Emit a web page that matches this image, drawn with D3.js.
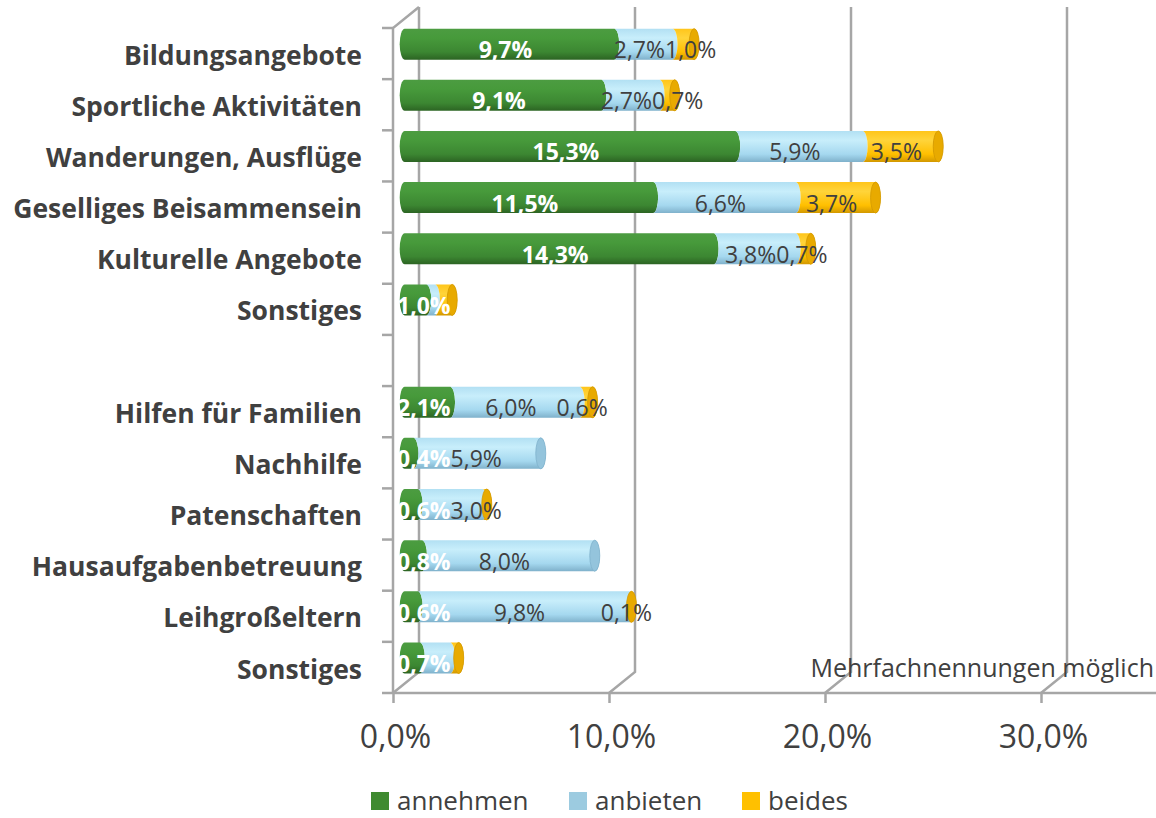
<!DOCTYPE html>
<html>
<head>
<meta charset="utf-8">
<script src="https://cdn.jsdelivr.net/npm/d3@7"></script>
<style>
  body { margin: 0; background: #fff; }
  svg { display: block; font-family: "Open Sans", sans-serif; }
</style>
</head>
<body>
<svg width="1156" height="818"></svg>
<script>
// categories top to bottom, "" is the empty gap row
var categories = ["Bildungsangebote", "Sportliche Aktivitäten", "Wanderungen, Ausflüge",
    "Geselliges Beisammensein", "Kulturelle Angebote", "Sonstiges", "",
    "Hilfen für Familien", "Nachhilfe", "Patenschaften", "Hausaufgabenbetreuung",
    "Leihgroßeltern", "Sonstiges"];

var annehmen = [9.7, 9.1, 15.3, 11.5, 14.3, 1.0, 0, 2.1, 0.4, 0.6, 0.8, 0.6, 0.7];
var anbieten = [2.7, 2.7, 5.9, 6.6, 3.8, 0.4, 0, 6.0, 5.9, 3.0, 8.0, 9.8, 1.4];
var beides   = [1.0, 0.7, 3.5, 3.7, 0.7, 0.8, 0, 0.6, 0.0, 0.2, 0.0, 0.1, 0.4];

var seriesNames = ["annehmen", "anbieten", "beides"];
var xTicks = [0, 10, 20, 30];
// labels not shown in the original: [row, series]
var hiddenLabels = [[5, 1], [5, 2], [9, 2], [12, 1], [12, 2]];

var svg = d3.select("svg");

var de = d3.formatLocale({ decimal: ",", thousands: ".", grouping: [3], currency: ["", " €"] });
var fmt = function (v) { return de.format(".1f")(v) + "%"; };

var frontX = 393, frontTop = 28, frontBottom = 693;
var depthX = 26, depthY = -21;
var barX = frontX + depthX * 0.45, barDY = depthY * 0.45;

var x = d3.scaleLinear().domain([0, 35.5]).range([0, 21.6 * 35.5]);
var y = d3.scaleBand().domain(d3.range(categories.length)).range([frontTop, frontBottom]);

var grey = "#a6a6a6";
var textCol = "#404040";

// gradients for the cylinder look
var defs = svg.append("defs");
var gradStops = {
    annehmen: ["#4c9c41", "#479a3b", "#3c8732", "#2c6423"],
    anbieten: ["#b2e0f3", "#c8eefb", "#a5d8ef", "#7fb1cb"],
    beides:   ["#ffc51a", "#ffd43a", "#ffbf00", "#d29800"]
};
var capColors = { annehmen: "#5fa653", anbieten: "#94c4dc", beides: "#e8aa00" };
var legendColors = { annehmen: "#3f8a30", anbieten: "#9ccbe0", beides: "#ffc000" };

seriesNames.forEach(function (s) {
    var g = defs.append("linearGradient").attr("id", "g-" + s)
        .attr("x1", 0).attr("y1", 0).attr("x2", 0).attr("y2", 1);
    [0, 0.3, 0.75, 1].forEach(function (o, i) {
        g.append("stop").attr("offset", o).attr("stop-color", gradStops[s][i]);
    });
});

// back wall gridlines + floor diagonals
var grid = svg.append("g").attr("stroke", grey).attr("stroke-width", 2.5).attr("fill", "none");
xTicks.forEach(function (t) {
    var fx = frontX + x(t), bx = fx + depthX;
    grid.append("path").attr("d",
        "M" + bx + "," + (frontTop + depthY) + "L" + bx + "," + (frontBottom + depthY) +
        "L" + fx + "," + frontBottom);
});
// left wall edges
grid.append("path").attr("d",
    "M" + frontX + "," + frontBottom + "L" + frontX + "," + frontTop +
    "L" + (frontX + depthX) + "," + (frontTop + depthY));
// floor front edge
grid.append("path").attr("d", "M" + frontX + "," + frontBottom + "L1156," + frontBottom);

// left ticks on band boundaries
d3.range(categories.length + 1).forEach(function (k) {
    var yy = frontTop + k * y.step();
    grid.append("path").attr("d", "M" + (frontX - 11) + "," + yy + "L" + frontX + "," + yy);
});

// x axis
var xAxis = svg.append("g")
    .attr("transform", "translate(" + frontX + "," + frontBottom + ")")
    .call(d3.axisBottom(x).tickValues(xTicks).tickFormat(fmt).tickSize(10).tickPadding(22));
xAxis.select(".domain").remove();
xAxis.selectAll("line").attr("stroke", grey).attr("stroke-width", 2.5);
xAxis.selectAll("text").attr("font-size", 32).attr("fill", textCol)
    .attr("font-family", "Open Sans").attr("dx", 2);

// category axis
var yAxis = svg.append("g")
    .attr("transform", "translate(" + frontX + ",0)")
    .call(d3.axisLeft(y).tickFormat(function (i) { return categories[i]; })
        .tickSize(0).tickPadding(31));
yAxis.select(".domain").remove();
yAxis.selectAll("text").attr("font-size", 26.5).attr("font-weight", "bold")
    .attr("fill", textCol).attr("font-family", "Open Sans").attr("dy", "0.42em");

// stacked data
var rows = categories.map(function (c, i) {
    return { i: i, values: [annehmen[i], anbieten[i], beides[i]] };
});

var r = 15.5, rx = 5;
var bars = svg.append("g");
var labels = svg.append("g");

rows.forEach(function (row) {
    var yc = y(row.i) + y.bandwidth() / 2 + barDY;
    var acc = 0, last = null, placed = [];
    row.values.forEach(function (v, s) {
        if (!v) return;
        var xa = barX + x(acc), xb = barX + x(acc + v);
        var first = acc === 0;
        var d = "M" + xa + "," + (yc - r) + "L" + xb + "," + (yc - r) +
            "A" + rx + "," + r + " 0 0 1 " + xb + "," + (yc + r) +
            "L" + xa + "," + (yc + r) +
            "A" + rx + "," + r + " 0 0 " + (first ? 1 : 0) + " " + xa + "," + (yc - r) + "Z";
        bars.append("path").attr("d", d).attr("fill", "url(#g-" + seriesNames[s] + ")");
        last = { x: xb, s: s };

        var hidden = hiddenLabels.some(function (h) { return h[0] === row.i && h[1] === s; });
        if (!hidden) {
            var t = labels.append("text")
                .attr("y", yc + 6).attr("dy", "0.35em")
                .attr("text-anchor", "middle")
                .attr("font-size", 23)
                .attr("font-weight", s === 0 ? "bold" : "normal")
                .attr("fill", s === 0 ? "#fff" : textCol)
                .text(fmt(v));
            var w = t.node().getComputedTextLength();
            var cx = (xa + xb) / 2 - 4;
            if (cx - w / 2 < frontX + 4) cx = frontX + 4 + w / 2;
            if (placed.length) {
                var prev = placed[placed.length - 1];
                if (cx - w / 2 < prev.right) cx = prev.right + w / 2;
            }
            t.attr("x", cx);
            placed.push({ right: cx + w / 2 });
        }
        acc += v;
    });
    if (last) {
        bars.append("ellipse").attr("cx", last.x).attr("cy", yc)
            .attr("rx", rx).attr("ry", r)
            .attr("fill", capColors[seriesNames[last.s]])
            .attr("stroke", gradStops[seriesNames[last.s]][3]).attr("stroke-width", 0.8);
    }
});

// note
svg.append("text").attr("x", 1154).attr("y", 677).attr("text-anchor", "end")
    .attr("font-size", 25).attr("fill", textCol).text("Mehrfachnennungen möglich");

// legend
var legendX = [371, 569, 742];
var legend = svg.append("g");
seriesNames.forEach(function (s, i) {
    legend.append("rect").attr("x", legendX[i]).attr("y", 792)
        .attr("width", 18).attr("height", 18).attr("fill", legendColors[s]);
    legend.append("text").attr("x", legendX[i] + 26).attr("y", 810)
        .attr("font-size", 26).attr("fill", textCol).text(s);
});
</script>
</body>
</html>
